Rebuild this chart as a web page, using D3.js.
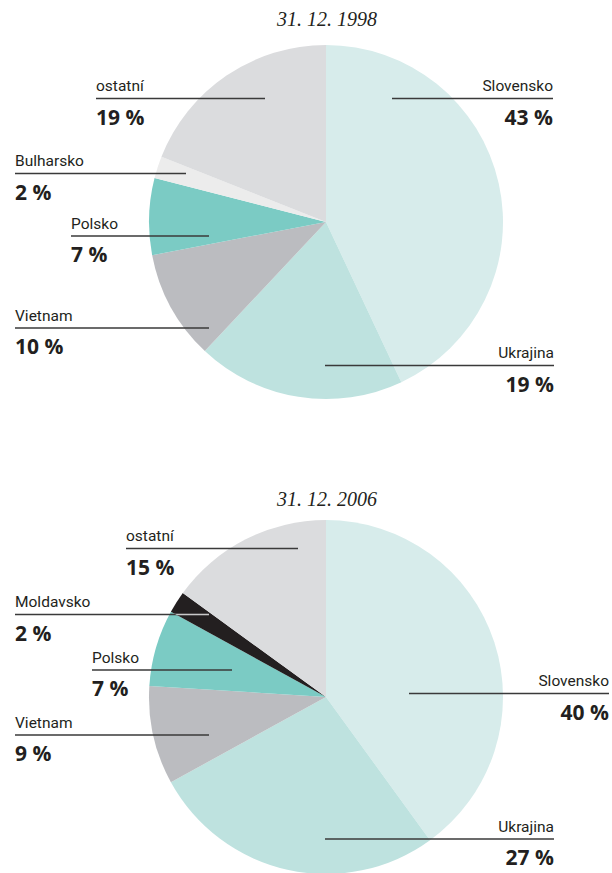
<!DOCTYPE html>
<html>
<head>
<meta charset="utf-8">
<script src="https://cdn.jsdelivr.net/npm/d3@7"></script>
<style>
  body { margin: 0; background: #fff; }
  .name { font-family: Roboto, sans-serif; font-size: 15.5px; fill: #231f20; }
  .pct { font-family: "Open Sans", sans-serif; font-weight: bold; font-size: 21px; fill: #231f20; }
  .title { font-family: "Liberation Serif", serif; font-style: italic; font-size: 20px; fill: #231f20; }
</style>
</head>
<body>
<div id="canvas"></div>
<script>
// data
var titles = ['31. 12. 1998', '31. 12. 2006'];
var countries1998 = ['Slovensko', 'Ukrajina', 'Vietnam', 'Polsko', 'Bulharsko', 'ostatní'];
var shares1998 = [43, 19, 10, 7, 2, 19];
var countries2006 = ['Slovensko', 'Ukrajina', 'Vietnam', 'Polsko', 'Moldavsko', 'ostatní'];
var shares2006 = [40, 27, 9, 7, 2, 15];

var colors = {
  'Slovensko': '#d7eceb',
  'Ukrajina': '#bee2df',
  'Vietnam': '#bbbcc0',
  'Polsko': '#7bcbc4',
  'Bulharsko': '#ececec',
  'Moldavsko': '#231f20',
  'ostatní': '#dbdcde'
};

// label layout: line y, line x1..x2, which end the text hangs on
var layout1998 = {
  'Slovensko': { y: 98.5, x1: 392, x2: 553, side: 'end' },
  'Ukrajina': { y: 365.5, x1: 325, x2: 554, side: 'end' },
  'Vietnam': { y: 328, x1: 15, x2: 209, side: 'start' },
  'Polsko': { y: 236, x1: 71, x2: 209, side: 'start' },
  'Bulharsko': { y: 173.5, x1: 15, x2: 186, side: 'start' },
  'ostatní': { y: 98.5, x1: 96, x2: 265, side: 'start' }
};
var layout2006 = {
  'Slovensko': { y: 693.5, x1: 409, x2: 609, side: 'end' },
  'Ukrajina': { y: 839, x1: 325, x2: 554, side: 'end' },
  'Vietnam': { y: 735, x1: 15, x2: 209, side: 'start' },
  'Polsko': { y: 670, x1: 92, x2: 232, side: 'start' },
  'Moldavsko': { y: 614.5, x1: 15, x2: 209, side: 'start' },
  'ostatní': { y: 548.5, x1: 126, x2: 298, side: 'start' }
};

var svg = d3.select('#canvas').append('svg')
  .attr('width', 612)
  .attr('height', 873);

var radius = 177;
var pie = d3.pie().sort(null).value(function (d) { return d.v; });
var arc = d3.arc().innerRadius(0).outerRadius(radius);

var drawPie = function (idx, names, values, layout, cx, cy, titleY) {
  var data = names.map(function (n, i) { return { name: n, v: values[i] }; });
  var arcs = pie(data);

  svg.append('text')
    .attr('class', 'title')
    .attr('x', cx + 1)
    .attr('y', titleY)
    .attr('text-anchor', 'middle')
    .text(titles[idx]);

  var g = svg.append('g').attr('transform', 'translate(' + cx + ',' + cy + ')');
  g.selectAll('path').data(arcs)
    .enter().append('path')
    .attr('d', arc)
    .attr('fill', function (d) { return colors[d.data.name]; });

  // clip used to lighten a leader line where it crosses the dark slice
  var dark = arcs.filter(function (d) { return d.data.name === 'Moldavsko'; });
  if (dark.length) {
    svg.append('clipPath').attr('id', 'darkclip' + idx)
      .append('path')
      .attr('transform', 'translate(' + cx + ',' + cy + ')')
      .attr('d', arc(dark[0]));
  }

  var labels = svg.append('g');
  arcs.forEach(function (d) {
    var L = layout[d.data.name];
    labels.append('line')
      .attr('x1', L.x1).attr('x2', L.x2)
      .attr('y1', L.y).attr('y2', L.y)
      .attr('stroke', '#3a3a3a')
      .attr('stroke-width', 1.4);
    if (dark.length) {
      labels.append('line')
        .attr('x1', L.x1).attr('x2', L.x2)
        .attr('y1', L.y).attr('y2', L.y)
        .attr('stroke', '#c8c8c8')
        .attr('stroke-width', 1.4)
        .attr('clip-path', 'url(#darkclip' + idx + ')');
    }
    var tx = L.side === 'end' ? L.x2 : L.x1;
    labels.append('text')
      .attr('class', 'name')
      .attr('x', tx)
      .attr('y', L.y - 7.5)
      .attr('text-anchor', L.side)
      .text(d.data.name);
    labels.append('text')
      .attr('class', 'pct')
      .attr('x', tx)
      .attr('y', L.y + 26)
      .attr('text-anchor', L.side)
      .text(d.data.v + ' %');
  });
};

drawPie(0, countries1998, shares1998, layout1998, 326, 222, 26);
drawPie(1, countries2006, shares2006, layout2006, 326, 697, 506);
</script>
</body>
</html>
